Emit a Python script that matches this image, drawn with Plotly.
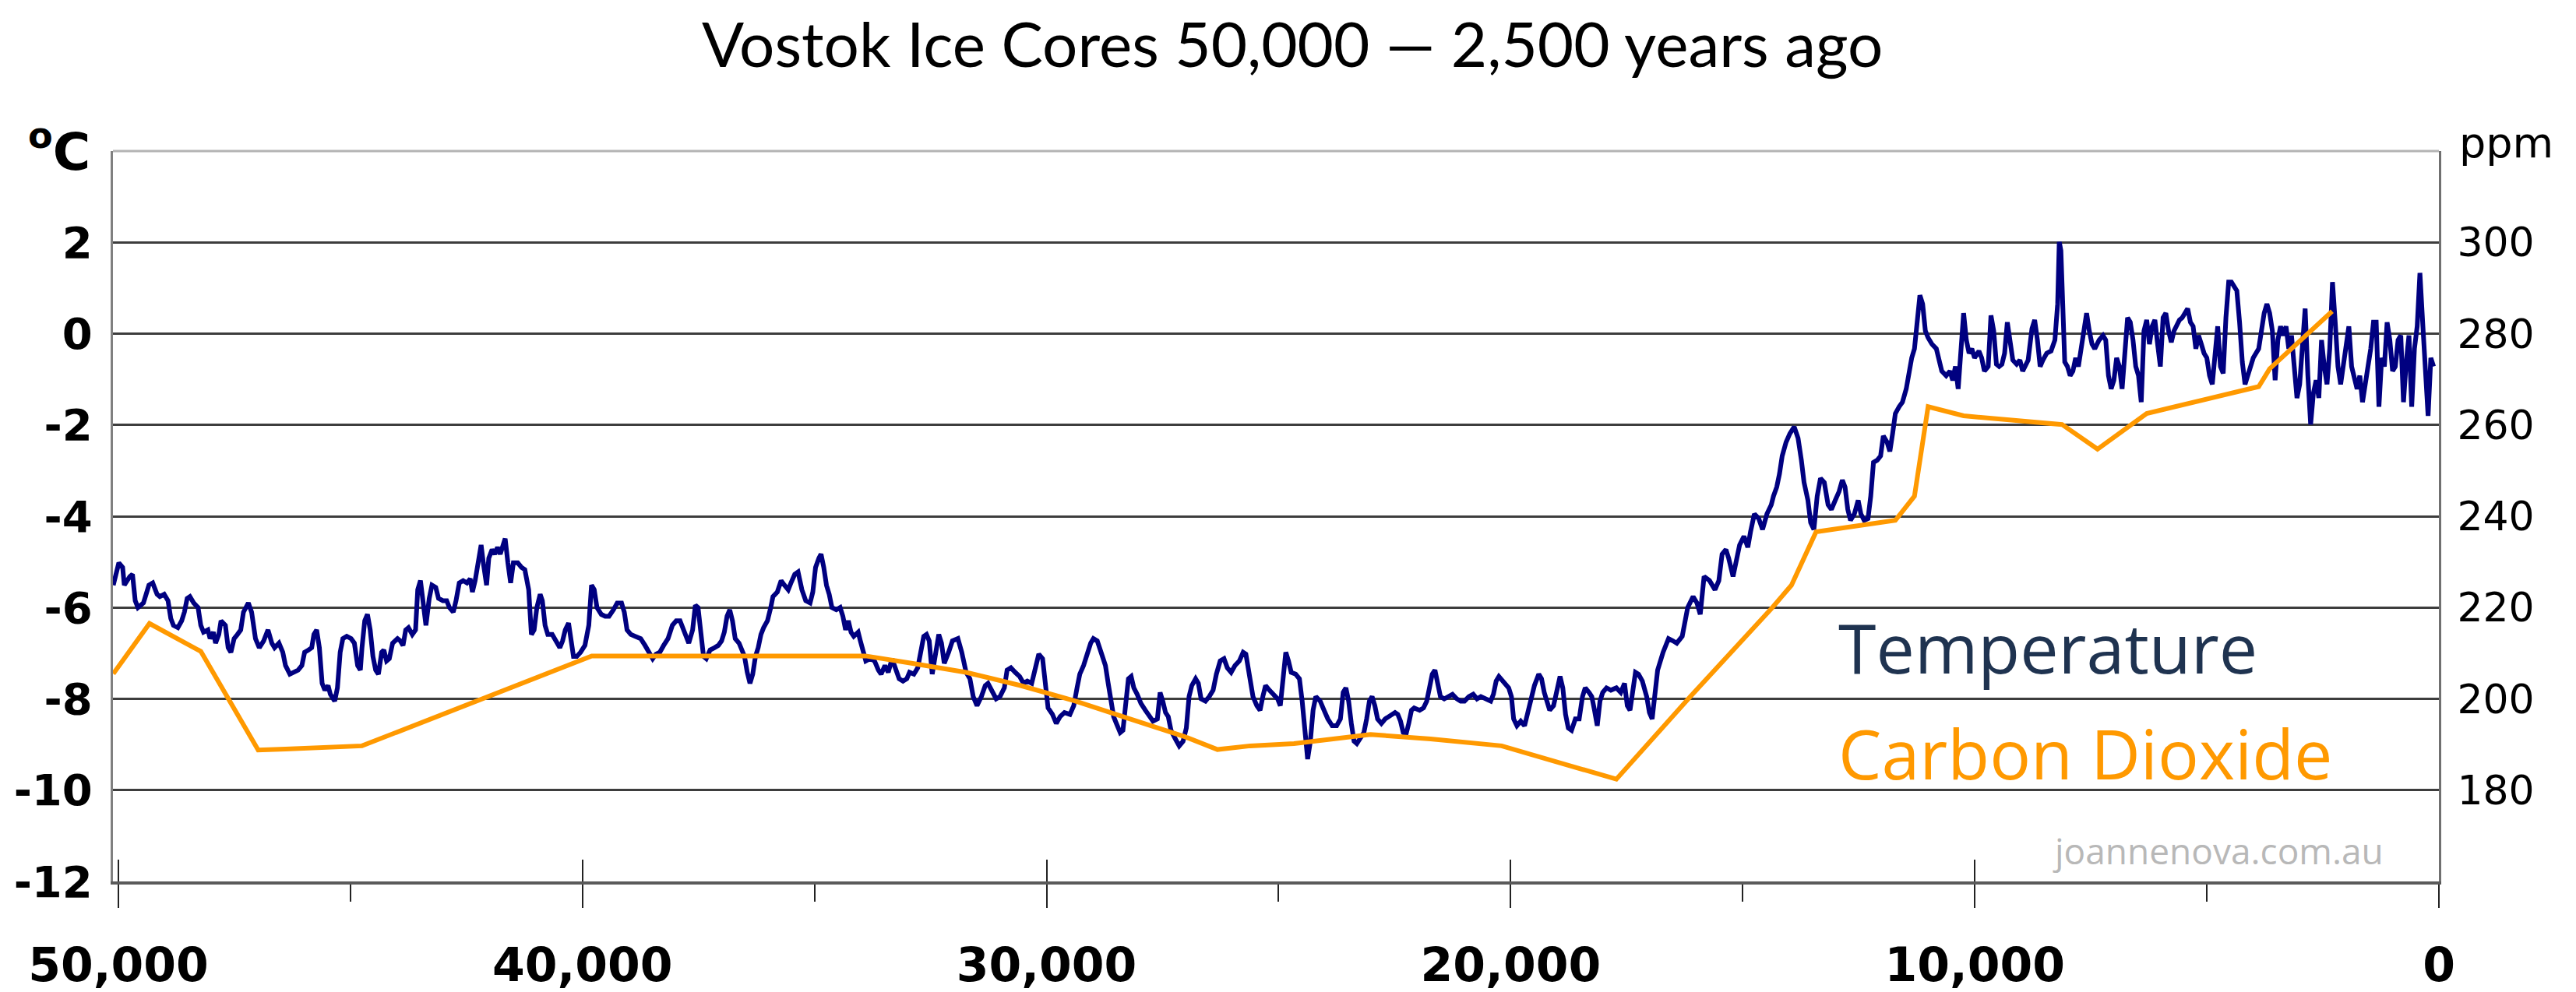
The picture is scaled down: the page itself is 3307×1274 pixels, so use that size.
import plotly.graph_objects as go

# ---------------- data ----------------
TEMP_AGE = [
    50110, 49990, 49908, 49872, 49754, 49696, 49637, 49578, 49460, 49342,
    49260, 49166, 49107, 49013, 48930, 48871, 48813, 48718, 48636, 48577,
    48518, 48459, 48377, 48283, 48224, 48165, 48071, 48024, 47953, 47906,
    47835, 47788, 47694, 47635, 47576, 47506, 47435, 47364, 47305, 47200,
    47129, 47046, 46964, 46870, 46776, 46693, 46634, 46540, 46458, 46399,
    46305, 46222, 46128, 46046, 45987, 45904, 45834, 45787, 45728, 45669,
    45610, 45551, 45481, 45433, 45339, 45280, 45221, 45163, 45080, 44986,
    44915, 44845, 44786, 44751, 44692, 44633, 44574, 44515, 44456, 44397,
    44327, 44280, 44221, 44162, 44091, 43985, 43926, 43867, 43809, 43750,
    43667, 43597, 43550, 43491, 43432, 43373, 43302, 43243, 43161, 43102,
    43008, 42926, 42867, 42784, 42725, 42655, 42572, 42490, 42419, 42372,
    42313, 42254, 42184, 42137, 42066, 42019, 41948, 41889, 41831, 41772,
    41713, 41666, 41607, 41548, 41489, 41395, 41313, 41242, 41159, 41101,
    41042, 40983, 40912, 40865, 40806, 40747, 40653, 40571, 40488, 40429,
    40371, 40300, 40241, 40194, 40123, 40041, 39947, 39864, 39805, 39747,
    39688, 39594, 39511, 39429, 39334, 39252, 39158, 39099, 39040, 38958,
    38864, 38746, 38652, 38569, 38487, 38416, 38334, 38251, 38157, 38063,
    37980, 37898, 37827, 37769, 37710, 37627, 37568, 37510, 37451, 37392,
    37333, 37250, 37156, 37074, 37003, 36944, 36885, 36827, 36768, 36709,
    36626, 36568, 36509, 36450, 36391, 36332, 36273, 36214, 36155, 36097,
    36014, 35944, 35896, 35802, 35720, 35649, 35567, 35508, 35426, 35355,
    35272, 35190, 35096, 35037, 34978, 34907, 34860, 34801, 34743, 34684,
    34625, 34531, 34448, 34389, 34331, 34272, 34213, 34154, 34060, 34013,
    33954, 33895, 33801, 33707, 33624, 33565, 33483, 33412, 33330, 33247,
    33177, 33094, 33012, 32953, 32859, 32776, 32718, 32647, 32588, 32529,
    32464, 32382, 32323, 32264, 32205, 32111, 32029, 31911, 31828, 31734,
    31652, 31581, 31499, 31405, 31322, 31263, 31169, 31087, 31004, 30910,
    30851, 30769, 30675, 30580, 30498, 30416, 30321, 30251, 30168, 30086,
    30027, 29968, 29874, 29791, 29709, 29615, 29497, 29415, 29344, 29285,
    29203, 29120, 29050, 28991, 28908, 28826, 28732, 28673, 28614, 28555,
    28496, 28414, 28355, 28296, 28237, 28178, 28120, 28049, 27967, 27872,
    27790, 27707, 27613, 27554, 27496, 27437, 27378, 27319, 27225, 27142,
    27060, 26989, 26930, 26872, 26789, 26730, 26671, 26577, 26495, 26412,
    26342, 26259, 26177, 26106, 26024, 25941, 25847, 25765, 25706, 25635,
    25553, 25470, 25400, 25341, 25282, 25200, 25105, 25023, 24964, 24905,
    24846, 24788, 24729, 24634, 24552, 24493, 24434, 24375, 24317, 24258,
    24199, 24105, 24022, 23940, 23846, 23751, 23669, 23610, 23551, 23492,
    23434, 23375, 23316, 23233, 23163, 23104, 23045, 22986, 22927, 22868,
    22786, 22704, 22609, 22492, 22433, 22374, 22315, 22256, 22197, 22138,
    22080, 21962, 21879, 21809, 21750, 21691, 21632, 21573, 21514, 21432,
    21338, 21255, 21161, 21079, 20996, 20902, 20808, 20726, 20643, 20549,
    20431, 20372, 20313, 20254, 20172, 20101, 20043, 19984, 19937, 19866,
    19784, 19701, 19630, 19548, 19489, 19395, 19336, 19277, 19218, 19160,
    19077, 18995, 18936, 18877, 18818, 18759, 18689, 18606, 18524, 18453,
    18394, 18312, 18253, 18194, 18135, 18076, 18017, 17935, 17841, 17723,
    17629, 17547, 17488, 17429, 17370, 17311, 17246, 17164, 17070, 17011,
    16952, 16893, 16834, 16716, 16599, 16504, 16422, 16304, 16186, 16069,
    15986, 15916, 15833, 15716, 15598, 15515, 15445, 15362, 15303, 15209,
    15150, 15068, 14974, 14891, 14832, 14750, 14656, 14573, 14479, 14385,
    14338, 14267, 14208, 14150, 14067, 13985, 13891, 13808, 13737, 13679,
    13596, 13537, 13467, 13396, 13325, 13243, 13161, 13090, 13007, 12925,
    12854, 12796, 12737, 12678, 12595, 12513, 12454, 12383, 12301, 12242,
    12183, 12101, 12030, 11971, 11889, 11830, 11771, 11712, 11630, 11559,
    11477, 11418, 11359, 11300, 11241, 11183, 11124, 11065, 11006, 10923,
    10829, 10770, 10712, 10617, 10535, 10476, 10417, 10358, 10299, 10241,
    10182, 10123, 10064, 10005, 9911, 9852, 9793, 9711, 9652, 9593,
    9534, 9475, 9416, 9358, 9299, 9240, 9181, 9099, 9028, 8969,
    8910, 8851, 8769, 8710, 8651, 8592, 8533, 8451, 8357, 8274,
    8215, 8180, 8145, 8110, 8062, 8004, 7945, 7886, 7827, 7768,
    7709, 7650, 7591, 7533, 7474, 7415, 7321, 7238, 7179, 7120,
    7062, 7003, 6944, 6885, 6826, 6767, 6708, 6650, 6591, 6532,
    6473, 6414, 6355, 6296, 6237, 6179, 6120, 6061, 6002, 5943,
    5884, 5825, 5766, 5708, 5649, 5590, 5531, 5472, 5413, 5354,
    5296, 5237, 5178, 5119, 5060, 5001, 4942, 4883, 4825, 4766,
    4707, 4648, 4589, 4530, 4471, 4412, 4354, 4295, 4236, 4177,
    4118, 4059, 4000, 3942, 3883, 3824, 3765, 3706, 3647, 3588,
    3529, 3470, 3412, 3353, 3294, 3235, 3176, 3117, 3058, 3000,
    2941, 2882, 2823, 2764, 2705, 2646, 2587, 2529, 2470, 2411,
    2352, 2293, 2234, 2175, 2117, 2058, 1999, 1940, 1881, 1822,
    1763, 1704, 1646, 1587, 1528, 1469, 1410, 1351, 1292, 1233,
    1175, 1116, 1057, 998, 939, 880, 821, 763, 704, 645,
    586, 527, 468, 409, 350, 292, 233, 174, 115,
]

TEMP_C = [
    -5.51, -5.02, -5.12, -5.51, -5.32, -5.27, -5.85, -6.00, -5.90, -5.51,
    -5.46, -5.71, -5.76, -5.71, -5.85, -6.24, -6.39, -6.44, -6.29, -6.10,
    -5.80, -5.76, -5.90, -6.00, -6.39, -6.54, -6.49, -6.68, -6.54, -6.78,
    -6.59, -6.29, -6.39, -6.88, -6.98, -6.68, -6.59, -6.49, -6.10, -5.90,
    -6.10, -6.68, -6.88, -6.73, -6.49, -6.78, -6.88, -6.78, -6.98, -7.27,
    -7.46, -7.42, -7.37, -7.27, -6.98, -6.93, -6.88, -6.59, -6.49, -6.88,
    -7.66, -7.81, -7.71, -7.90, -8.05, -7.76, -6.98, -6.68, -6.63, -6.68,
    -6.78, -7.27, -7.37, -6.88, -6.29, -6.15, -6.49, -7.07, -7.37, -7.46,
    -6.98, -6.93, -7.17, -7.12, -6.78, -6.68, -6.73, -6.83, -6.49, -6.44,
    -6.59, -6.49, -5.61, -5.41, -6.00, -6.39, -5.80, -5.51, -5.56, -5.80,
    -5.85, -5.85, -6.00, -6.10, -5.85, -5.46, -5.41, -5.46, -5.37, -5.66,
    -5.41, -5.07, -4.63, -5.02, -5.51, -4.92, -4.73, -4.83, -4.68, -4.83,
    -4.63, -4.49, -5.02, -5.46, -5.02, -5.02, -5.12, -5.17, -5.61, -6.59,
    -6.49, -6.00, -5.71, -5.85, -6.39, -6.59, -6.59, -6.73, -6.88, -6.73,
    -6.49, -6.34, -6.78, -7.07, -7.07, -6.98, -6.83, -6.39, -5.51, -5.61,
    -6.00, -6.15, -6.19, -6.19, -6.05, -5.90, -5.90, -6.10, -6.49, -6.59,
    -6.63, -6.68, -6.83, -6.98, -7.12, -7.02, -6.98, -6.83, -6.68, -6.39,
    -6.29, -6.29, -6.49, -6.68, -6.78, -6.49, -5.95, -6.00, -6.68, -7.07,
    -7.12, -6.93, -6.88, -6.83, -6.73, -6.54, -6.19, -6.05, -6.29, -6.68,
    -6.78, -6.93, -7.07, -7.42, -7.66, -7.46, -7.07, -6.88, -6.59, -6.44,
    -6.29, -6.00, -5.76, -5.66, -5.41, -5.51, -5.61, -5.46, -5.27, -5.22,
    -5.61, -5.85, -5.90, -5.66, -5.12, -4.92, -4.83, -5.12, -5.51, -5.71,
    -6.00, -6.05, -6.00, -6.19, -6.49, -6.29, -6.54, -6.63, -6.54, -6.73,
    -6.98, -7.17, -7.12, -7.17, -7.37, -7.46, -7.27, -7.42, -7.12, -7.37,
    -7.56, -7.61, -7.56, -7.42, -7.46, -7.32, -6.98, -6.63, -6.59, -6.73,
    -7.46, -6.98, -6.59, -6.78, -7.22, -6.98, -6.73, -6.68, -6.98, -7.42,
    -7.56, -7.95, -8.15, -7.95, -7.71, -7.66, -7.86, -8.00, -7.95, -7.76,
    -7.37, -7.32, -7.42, -7.51, -7.66, -7.61, -7.66, -7.37, -7.02, -7.12,
    -7.76, -8.20, -8.34, -8.54, -8.39, -8.30, -8.34, -8.15, -7.76, -7.46,
    -7.27, -6.98, -6.78, -6.68, -6.73, -6.98, -7.27, -7.66, -8.05, -8.39,
    -8.54, -8.74, -8.69, -8.15, -7.56, -7.51, -7.76, -7.90, -8.10, -8.25,
    -8.39, -8.49, -8.44, -7.86, -8.05, -8.30, -8.39, -8.69, -8.88, -9.03,
    -8.93, -8.64, -7.95, -7.71, -7.56, -7.66, -8.00, -8.05, -7.95, -7.81,
    -7.46, -7.17, -7.12, -7.32, -7.42, -7.27, -7.17, -6.98, -7.02, -7.46,
    -7.95, -8.15, -8.25, -7.95, -7.71, -7.81, -7.90, -8.00, -8.15, -7.56,
    -6.98, -7.17, -7.42, -7.46, -7.56, -8.05, -8.64, -9.32, -8.93, -8.25,
    -7.95, -8.05, -8.25, -8.44, -8.59, -8.59, -8.44, -7.86, -7.76, -8.05,
    -8.54, -8.93, -8.98, -8.83, -8.74, -8.44, -8.05, -7.95, -8.15, -8.44,
    -8.54, -8.44, -8.39, -8.30, -8.34, -8.49, -8.74, -8.78, -8.54, -8.25,
    -8.20, -8.25, -8.20, -8.05, -7.76, -7.46, -7.37, -7.66, -7.95, -8.00,
    -7.95, -7.90, -8.00, -8.05, -8.05, -7.95, -7.90, -8.00, -7.95, -8.00,
    -8.05, -7.90, -7.61, -7.51, -7.61, -7.66, -7.76, -7.95, -8.44, -8.59,
    -8.49, -8.59, -8.30, -7.95, -7.71, -7.46, -7.56, -7.86, -8.10, -8.25,
    -8.15, -7.81, -7.51, -7.76, -8.34, -8.64, -8.69, -8.44, -8.44, -7.95,
    -7.76, -7.86, -7.95, -8.25, -8.59, -8.05, -7.86, -7.76, -7.81, -7.76,
    -7.86, -7.66, -8.15, -8.25, -7.86, -7.42, -7.46, -7.61, -7.95, -8.30,
    -8.44, -7.95, -7.37, -6.98, -6.68, -6.73, -6.78, -6.63, -6.00, -5.76,
    -5.90, -6.15, -5.32, -5.41, -5.61, -5.41, -4.83, -4.73, -4.92, -5.32,
    -5.02, -4.63, -4.44, -4.68, -4.34, -3.95, -4.05, -4.29, -3.95, -3.75,
    -3.56, -3.36, -3.07, -2.68, -2.38, -2.19, -2.04, -2.29, -2.77, -3.26,
    -3.65, -4.14, -4.29, -3.56, -3.17, -3.26, -3.75, -3.85, -3.65, -3.46,
    -3.21, -3.36, -3.85, -4.09, -3.95, -3.65, -3.95, -4.09, -4.05, -3.56,
    -2.82, -2.77, -2.68, -2.24, -2.38, -2.58, -2.19, -1.75, -1.60, -1.50,
    -1.21, -0.82, -0.53, -0.33, 0.16, 0.84, 0.65, 0.06, -0.09, -0.23,
    -0.33, -0.62, -0.82, -0.92, -0.82, -1.02, -0.72, -1.21, -0.33, 0.45,
    -0.14, -0.43, -0.33, -0.53, -0.38, -0.53, -0.82, -0.72, 0.40, 0.06,
    -0.67, -0.72, -0.67, -0.43, 0.25, -0.14, -0.58, -0.67, -0.58, -0.82,
    -0.72, -0.58, 0.11, 0.30, -0.14, -0.72, -0.58, -0.43, -0.38, -0.14,
    0.65, 2.01, 1.82, 0.84, -0.62, -0.72, -0.92, -0.82, -0.53, -0.72,
    -0.33, 0.06, 0.45, 0.06, -0.23, -0.33, -0.14, -0.04, -0.14, -0.92,
    -1.21, -1.02, -0.53, -0.72, -1.21, -0.43, 0.35, 0.25, -0.14, -0.72,
    -0.92, -1.50, 0.06, 0.30, -0.23, 0.16, 0.30, -0.23, -0.72, 0.35,
    0.45, 0.06, -0.19, 0.06, 0.16, 0.30, 0.35, 0.45, 0.55, 0.25,
    0.16, -0.33, -0.04, -0.23, -0.43, -0.53, -0.92, -1.11, -0.33, 0.16,
    -0.72, -0.87, 0.35, 1.13, 1.13, 1.04, 0.94, 0.25, -0.62, -1.11,
    -0.92, -0.72, -0.53, -0.43, -0.33, 0.06, 0.45, 0.65, 0.45, 0.06,
    -1.02, -0.14, 0.16, -0.04, 0.16, -0.33, -0.04, -0.72, -1.41, -1.11,
    -0.14, 0.55, -0.92, -1.99, -1.31, -1.02, -1.41, -0.14, -0.72, -1.11,
    -0.33, 1.13, 0.25, -0.72, -1.11, -0.62, -0.33, 0.16, -0.72, -1.02,
    -1.21, -0.92, -1.50, -1.11, -0.72, -0.33, 0.25, 0.25, -1.60, -0.53,
    -0.72, 0.25, -0.14, -0.82, -0.72, -0.14, -0.04, -1.50, -0.62, -0.04,
    -1.60, -0.33, 0.16, 1.33, 0.25, -0.72, -1.80, -0.53, -0.72,
]

CO2_AGE = [
    50110, 49330, 48224, 46988, 46399, 44751, 39800, 33900, 32912, 31734,
    30556, 29379, 28200, 27022, 26318, 25612, 24670, 23020, 21727, 20196,
    17723, 16128, 14362, 13950, 13420, 11712, 11300, 11006, 10241, 8121,
    7356, 6296, 3883, 3647, 2300,
]
CO2_PPM = [
    205.5, 216.5, 210.4, 188.8, 189.0, 189.7, 209.4, 209.4, 207.8, 205.8,
    202.9, 199.5, 195.6, 191.7, 188.9, 189.7, 190.2, 192.2, 191.2, 189.7,
    182.4, 200.5, 220.0, 224.9, 236.6, 239.1, 244.4, 264.0, 262.0, 260.1,
    254.7, 262.5, 268.4, 272.3, 284.9,
]

X_TICKS = [50000, 40000, 30000, 20000, 10000, 0]
X_TICK_TEXT = ["50,000", "40,000", "30,000", "20,000", "10,000", "0"]
Y_TICKS = [-12, -10, -8, -6, -4, -2, 0, 2]
Y_TICK_TEXT = ["-12", "-10", "-8", "-6", "-4", "-2", "0", "2"]
PPM_TICKS = [180, 200, 220, 240, 260, 280, 300]

TITLE = "Vostok Ice Cores 50,000 \u2014 2,500 years ago"

# ---------------- layout constants ----------------
W, H = 3307, 1274
ML, MR, MT, MB = 145, 176, 194, 142
X_RANGE = [50117, 0]
Y_RANGE = [-12, 4]
PPM_RANGE = [160, 320]

fig = go.Figure()
fig.add_trace(go.Scatter(
    x=TEMP_AGE, y=TEMP_C, mode="lines", name="Temperature",
    line=dict(color="#000080", width=6), xaxis="x", yaxis="y",
))
fig.add_trace(go.Scatter(
    x=CO2_AGE, y=CO2_PPM, mode="lines", name="Carbon Dioxide",
    line=dict(color="#FF9900", width=6), xaxis="x2", yaxis="y2",
))

fig.update_layout(
    width=W, height=H,
    margin=dict(l=ML, r=MR, t=MT, b=MB, pad=0, autoexpand=False),
    paper_bgcolor="white", plot_bgcolor="white",
    showlegend=False,
    title=dict(
        text=TITLE, x=0.5017, xanchor="center", xref="container",
        y=1 - 58 / H, yanchor="middle", yref="container", automargin=False,
        font=dict(family="Lato", size=80, color="black"),
    ),
    xaxis=dict(
        range=X_RANGE, tickmode="array", tickvals=X_TICKS, ticktext=X_TICK_TEXT,
        ticks="outside", ticklen=30, tickwidth=2, tickcolor="#222222",
        showline=True, linecolor="#5a5a5a", linewidth=4,
        showgrid=False, zeroline=False, automargin=False,
        tickfont=dict(family="DejaVu Sans", size=60, color="black", weight="bold"),
        ticklabelstandoff=22,
        minor=dict(ticks="outside", ticklen=22, tickwidth=2, tickcolor="#222222",
                   tick0=0, dtick=5000, showgrid=False),
    ),
    xaxis2=dict(
        range=X_RANGE, overlaying="x", anchor="y", side="bottom",
        tickmode="array", tickvals=X_TICKS, automargin=False,
        ticks="inside", ticklen=28, tickwidth=2, tickcolor="#222222",
        showticklabels=False, showline=False, showgrid=False, zeroline=False,
    ),
    yaxis=dict(
        range=Y_RANGE, tickmode="array", tickvals=Y_TICKS, ticktext=Y_TICK_TEXT,
        ticks="", showgrid=True, gridcolor="#3d3d3d", gridwidth=3,
        showline=True, linecolor="#808080", linewidth=3, zeroline=False,
        automargin=False,
        tickfont=dict(family="DejaVu Sans", size=56, color="black", weight="bold"),
        ticklabelstandoff=12,
    ),
    yaxis2=dict(
        range=PPM_RANGE, overlaying="y", side="right", anchor="x",
        tickmode="array", tickvals=PPM_TICKS, ticks="",
        showgrid=False, showline=True, linecolor="#707070", linewidth=3,
        zeroline=False, automargin=False,
        tickfont=dict(family="DejaVu Sans", size=52, color="black"),
        ticklabelstandoff=10,
    ),
    shapes=[
        dict(type="line", xref="paper", yref="paper", x0=0, x1=1, y0=1, y1=1,
             line=dict(color="#b4b4b4", width=3), layer="below"),
    ],
    annotations=[
        dict(text="<sup>o</sup>C", xref="paper", yref="paper",
             x=-0.0090, y=1.0032, xanchor="right", yanchor="middle", showarrow=False,
             font=dict(family="DejaVu Sans", size=66, color="black", weight="bold")),
        dict(text="ppm", xref="paper", yref="paper",
             x=1.008, y=1.0107, xanchor="left", yanchor="middle", showarrow=False,
             font=dict(family="DejaVu Sans", size=54, color="black")),
        dict(text="Temperature", xref="paper", yref="paper",
             x=0.7411, y=0.321, xanchor="left", yanchor="middle", showarrow=False,
             font=dict(family="Open Sans", size=88, color="#1f3350")),
        dict(text="Carbon Dioxide", xref="paper", yref="paper",
             x=0.7411, y=0.1764, xanchor="left", yanchor="middle", showarrow=False,
             font=dict(family="Open Sans", size=88, color="#FF9900")),
        dict(text="joannenova.com.au", xref="paper", yref="paper",
             x=0.9052, y=0.0426, xanchor="center", yanchor="middle", showarrow=False,
             font=dict(family="Open Sans", size=46, color="#b8b8b8")),
    ],
)

# the page body has a default 8px margin; remove it so the figure fills the window
fig.write_html(
    "out.html",
    config={"displayModeBar": False, "staticPlot": True},
    post_script="document.body.style.margin='0px';",
)
